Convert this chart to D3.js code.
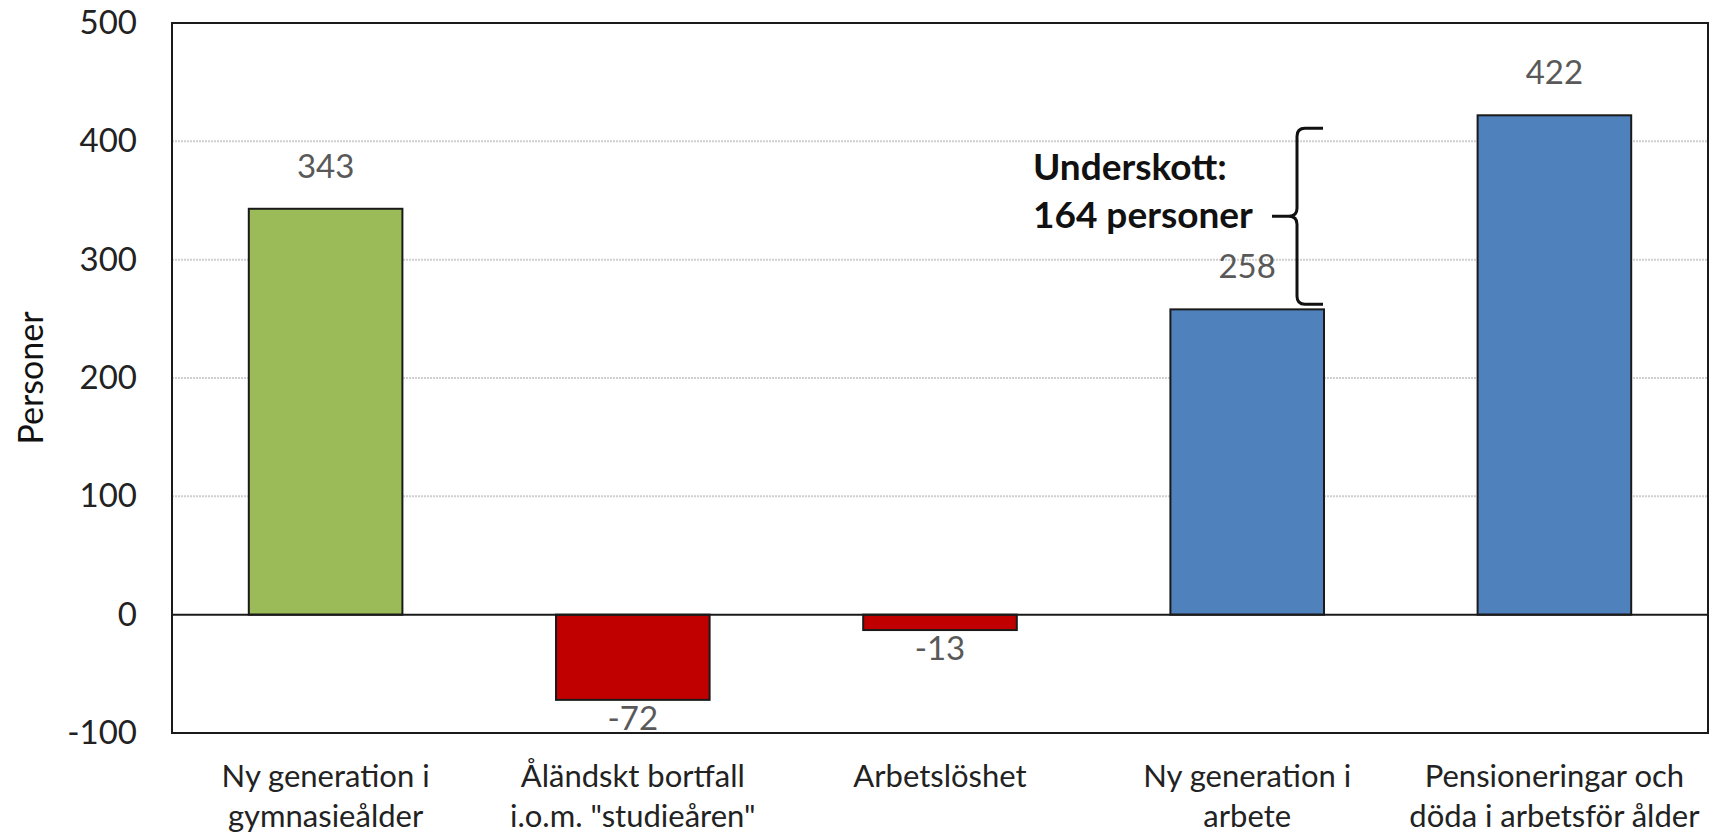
<!DOCTYPE html>
<html>
<head>
<meta charset="utf-8">
<script src="https://cdn.jsdelivr.net/npm/d3@7"></script>
<style>
  body { margin: 0; background: #fff; }
  svg text { font-family: Lato, "Open Sans", sans-serif; }
</style>
</head>
<body>
<div id="chart"></div>
<script>
// chart data
const categories = [
  [`Ny generation i`, `gymnasieålder`],
  [`Åländskt bortfall`, `i.o.m. "studieåren"`],
  [`Arbetslöshet`],
  [`Ny generation i`, `arbete`],
  [`Pensioneringar och`, `döda i arbetsför ålder`]
];
const values = [343, -72, -13, 258, 422];
const barColors = [`#9BBB59`, `#C00000`, `#C00000`, `#4F81BD`, `#4F81BD`];
const yTicks = [-100, 0, 100, 200, 300, 400, 500];
const deficitLines = [`Underskott:`, `164 personer`];

const width = 1713;
const height = 835;
const margin = { top: 23, right: 5, bottom: 102, left: 172 };

const svg = d3.select(`#chart`).append(`svg`)
  .attr(`width`, width)
  .attr(`height`, height);

const x = d3.scaleBand()
  .domain(d3.range(values.length))
  .range([margin.left, width - margin.right])
  .paddingInner(0.5)
  .paddingOuter(0.25);

const y = d3.scaleLinear()
  .domain([-100, 500])
  .range([height - margin.bottom, margin.top]);

// gridlines
svg.append(`g`)
  .selectAll(`line`)
  .data(yTicks.filter((t) => t !== 0 && t !== -100 && t !== 500))
  .enter().append(`line`)
    .attr(`x1`, margin.left)
    .attr(`x2`, width - margin.right)
    .attr(`y1`, (d) => y(d))
    .attr(`y2`, (d) => y(d))
    .attr(`stroke`, `#cfcfcf`)
    .attr(`stroke-width`, 2)
    .attr(`stroke-dasharray`, `2,1`);

// y axis labels (plain hyphen for negatives, like the original)
const yAxis = d3.axisLeft(y)
  .tickValues(yTicks)
  .tickFormat((d) => `${d}`)
  .tickSize(0)
  .tickPadding(35);
svg.append(`g`)
  .attr(`transform`, `translate(${margin.left},0)`)
  .call(yAxis)
  .call((g) => g.select(`.domain`).remove())
  .selectAll(`text`)
    .attr(`font-size`, 33)
    .attr(`fill`, `#222`)
    .attr(`font-family`, `Lato, sans-serif`);

// bars
svg.append(`g`)
  .selectAll(`rect`)
  .data(values)
  .enter().append(`rect`)
    .attr(`x`, (d, i) => x(i))
    .attr(`width`, x.bandwidth())
    .attr(`y`, (d) => y(Math.max(0, d)))
    .attr(`height`, (d) => Math.abs(y(d) - y(0)))
    .attr(`fill`, (d, i) => barColors[i])
    .attr(`stroke`, `#1a1a1a`)
    .attr(`stroke-width`, 2);

// zero line
svg.append(`line`)
  .attr(`x1`, margin.left)
  .attr(`x2`, width - margin.right)
  .attr(`y1`, y(0))
  .attr(`y2`, y(0))
  .attr(`stroke`, `#1a1a1a`)
  .attr(`stroke-width`, 2);

// plot border
svg.append(`rect`)
  .attr(`x`, margin.left)
  .attr(`y`, margin.top)
  .attr(`width`, width - margin.right - margin.left)
  .attr(`height`, y(-100) - margin.top)
  .attr(`fill`, `none`)
  .attr(`stroke`, `#1a1a1a`)
  .attr(`stroke-width`, 2);

// value labels
svg.append(`g`)
  .selectAll(`text`)
  .data(values)
  .enter().append(`text`)
    .attr(`x`, (d, i) => x(i) + x.bandwidth() / 2)
    .attr(`y`, (d) => d >= 0 ? y(d) - 31 : y(d) + 30)
    .attr(`text-anchor`, `middle`)
    .attr(`font-size`, 33)
    .attr(`fill`, `#595959`)
    .text((d) => d);

// category labels
const catG = svg.append(`g`);
categories.forEach((lines, i) => {
  const t = catG.append(`text`)
    .attr(`x`, x(i) + x.bandwidth() / 2)
    .attr(`y`, y(-100) + 54)
    .attr(`text-anchor`, `middle`)
    .attr(`font-size`, 31)
    .attr(`fill`, `#222`);
  lines.forEach((l, j) => {
    t.append(`tspan`)
      .attr(`x`, x(i) + x.bandwidth() / 2)
      .attr(`dy`, j === 0 ? 0 : 40)
      .text(l);
  });
});

// y axis title
svg.append(`text`)
  .attr(`transform`, `translate(43,${y(200)}) rotate(-90)`)
  .attr(`text-anchor`, `middle`)
  .attr(`font-size`, 34)
  .attr(`fill`, `#111`)
  .text(`Personer`);

// deficit brace between bar 4 and bar 5
const braceX = 1297;
const braceTop = y(values[4]) + 13;
const braceBottom = y(values[3]) - 5;
const braceMid = (braceTop + braceBottom) / 2;
const r = 8;
svg.append(`path`)
  .attr(`d`, `M${braceX + 26},${braceTop} L${braceX + r},${braceTop} Q${braceX},${braceTop} ${braceX},${braceTop + r}
    L${braceX},${braceMid - r} Q${braceX},${braceMid} ${braceX - r},${braceMid} L${braceX - 25},${braceMid}
    M${braceX - r},${braceMid} Q${braceX},${braceMid} ${braceX},${braceMid + r}
    L${braceX},${braceBottom - r} Q${braceX},${braceBottom} ${braceX + r},${braceBottom} L${braceX + 26},${braceBottom}`)
  .attr(`fill`, `none`)
  .attr(`stroke`, `#111`)
  .attr(`stroke-width`, 3);

const note = svg.append(`text`)
  .attr(`x`, 1033)
  .attr(`y`, 180)
  .attr(`font-size`, 37)
  .attr(`font-weight`, 700)
  .attr(`fill`, `#111`);
deficitLines.forEach((l, j) => {
  note.append(`tspan`)
    .attr(`x`, 1033)
    .attr(`dy`, j === 0 ? 0 : 48)
    .text(l);
});
</script>
</body>
</html>
